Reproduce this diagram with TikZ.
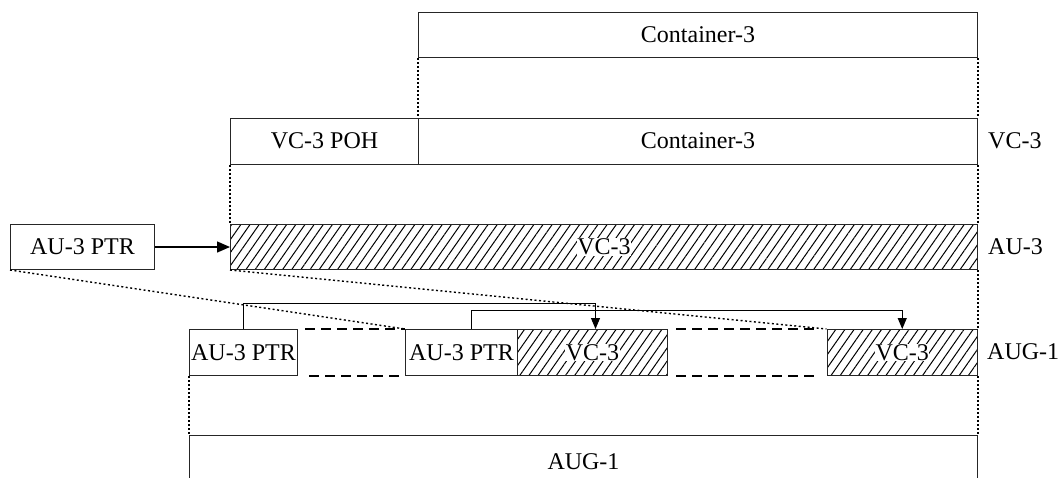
\documentclass[tikz,border=0pt]{standalone}
\usepackage{fontspec}
\setmainfont{Liberation Serif}
\usetikzlibrary{patterns.meta,arrows.meta}
\begin{document}
\begin{tikzpicture}[x=1pt,y=-1pt,
  every node/.style={font=\fontsize{24}{28}\selectfont},
  box/.style={draw=black!85,line width=1pt,inner sep=0pt,anchor=north west},
  hatch/.style={box,pattern={Lines[angle=55,distance=7.5pt,line width=1pt]}},
  htext/.style={fill=white,inner sep=0.5pt},
  dotline/.style={line width=1.6pt,dash pattern=on 2pt off 2pt},
  thindot/.style={line width=1.4pt,dash pattern=on 2pt off 2.5pt},
  dashline/.style={line width=1.6pt,dash pattern=on 10pt off 6pt},
  conn/.style={line width=1pt,-{Triangle[length=11pt,width=9pt]}},
  lab/.style={anchor=west,inner sep=0pt}]
\useasboundingbox (0,0) rectangle (1062,477);
% top container
\node[box,minimum width=559pt,minimum height=45pt] (c3top) at (418,12) {Container-3};
% VC-3 row
\node[box,minimum width=188pt,minimum height=46pt] (poh) at (230,117.5) {VC-3 POH};
\node[box,minimum width=559pt,minimum height=46pt] (c3) at (418,117.5) {Container-3};
\node[lab] (lvc) at (988,141) {VC-3};
% AU-3 row
\node[hatch,minimum width=747pt,minimum height=45pt] (au3) at (230,224) {};
\node[htext] (au3t) at (au3.center) {VC-3};
\node[box,minimum width=144pt,minimum height=45pt] (ptr) at (10,224) {AU-3 PTR};
\node[lab] (lau) at (988,247) {AU-3};
% AUG-1 row
\node[box,minimum width=108pt,minimum height=46pt] (p1) at (189,329) {AU-3 PTR};
\node[box,minimum width=112pt,minimum height=46pt] (p2) at (405,329) {AU-3 PTR};
\node[hatch,minimum width=150pt,minimum height=46pt] (v1) at (517,329) {};
\node[htext] (v1t) at (v1.center) {VC-3};
\node[hatch,minimum width=150.5pt,minimum height=46pt] (v2) at (826.5,329) {};
\node[htext] (v2t) at (v2.center) {VC-3};
\node[lab] (laug) at (987,352) {AUG-1};
% bottom AUG-1
\node[box,minimum width=788pt,minimum height=52pt] (aug) at (189,435) {AUG-1};
% dotted verticals
\draw[dotline] (c3top.south west) -- (c3.north west);
\draw[dotline] (c3top.south east) -- (c3.north east);
\draw[dotline] (poh.south west) -- (au3.north west);
\draw[dotline] (c3.south east) -- (au3.north east);
\draw[dotline] (au3.south east) -- (v2.north east);
\draw[dotline] (p1.south west) -- (aug.north west);
\draw[dotline] (v2.south east) -- (aug.north east);
% slanted dotted
\draw[thindot] (ptr.south west) -- (p2.north west);
\draw[thindot] (au3.south west) -- (v2.north west);
% dashed gaps
\draw[dashline] ([xshift=7pt]p1.north east) -- (p2.north west);
\draw[dashline] ([xshift=11pt]p1.south east) -- (p2.south west);
\draw[dashline] ([xshift=8pt]v1.north east) -- ([xshift=-7pt]v2.north west);
\draw[dashline] ([xshift=8pt]v1.south east) -- ([xshift=-7pt]v2.south west);
% arrows
\draw[line width=1.4pt,-{Triangle[length=13pt,width=11pt]}] (ptr.east) -- (au3.west);
\draw[conn] (p1.north) -- ++(0,-26) -| ([xshift=3pt]v1.north);
\draw[conn] ([xshift=10pt]p2.north) -- ++(0,-18.5) -| (v2.north);
\end{tikzpicture}
\end{document}
